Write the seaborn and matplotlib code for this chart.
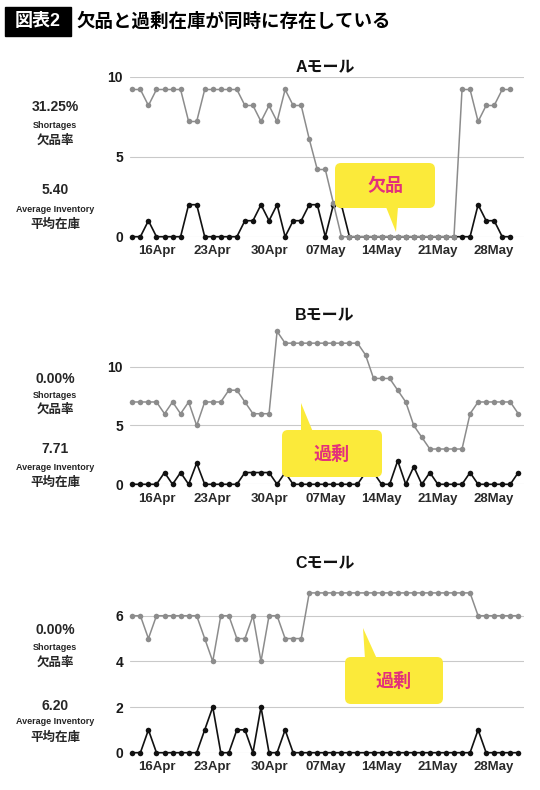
import numpy as np
import pandas as pd
import matplotlib
matplotlib.use('Agg')
import matplotlib.pyplot as plt
import matplotlib.dates as mdates
import seaborn as sns
from matplotlib.patches import FancyBboxPatch, Polygon

# ---- data ----
dates = pd.date_range('2020-04-13', '2020-05-31', freq='D')
tick_dates = ['2020-04-16', '2020-04-23', '2020-04-30', '2020-05-07',
              '2020-05-14', '2020-05-21', '2020-05-28']

header_tag = '図表2'
header_text = '欠品と過剰在庫が同時に存在している'

titles = ['Aモール', 'Bモール', 'Cモール']
shortage_rates = ['31.25%', '0.00%', '0.00%']
avg_inventory = ['5.40', '7.71', '6.20']

# grey line = stock on hand, black line = units sold
a_stock = [9.2, 9.2, 8.2, 9.2, 9.2, 9.2, 9.2, 7.2, 7.2, 9.2, 9.2, 9.2, 9.2, 9.2,
           8.2, 8.2, 7.2, 8.2, 7.2, 9.2, 8.2, 8.2, 6.1, 4.2, 4.2, 2.1,
           0, 0, 0, 0, 0, 0, 0, 0, 0, 0, 0, 0, 0, 0, 0,
           9.2, 9.2, 7.2, 8.2, 8.2, 9.2, 9.2]
a_sales = [0, 0, 1, 0, 0, 0, 0, 2, 2, 0, 0, 0, 0, 0,
           1, 1, 2, 1, 2, 0, 1, 1, 2, 2, 0, 2,
           2, 0, 0, 0, 0, 0, 0, 0, 0, 0, 0, 0, 0, 0, 0,
           0, 0, 2, 1, 1, 0, 0]

b_stock = [7, 7, 7, 7, 6, 7, 6, 7, 5, 7, 7, 7, 8, 8, 7, 6, 6, 6, 13,
           12, 12, 12, 12, 12, 12, 12, 12, 12, 12, 11, 9, 9, 9, 8, 7, 5, 4,
           3, 3, 3, 3, 3, 6, 7, 7, 7, 7, 7, 6]
b_sales = [0, 0, 0, 0, 1, 0, 1, 0, 1.8, 0, 0, 0, 0, 0, 1, 1, 1, 1, 0,
           1, 0, 0, 0, 0, 0, 0, 0, 0, 0, 1, 1, 0, 0, 2, 0, 1.5, 0,
           1, 0, 0, 0, 0, 1, 0, 0, 0, 0, 0, 1]

c_stock = [6, 6, 5, 6, 6, 6, 6, 6, 6, 5, 4, 6, 6, 5, 5, 6, 4, 6, 6, 5, 5, 5,
           7, 7, 7, 7, 7, 7, 7, 7, 7, 7, 7, 7, 7, 7, 7, 7, 7, 7, 7, 7, 7,
           6, 6, 6, 6, 6, 6]
c_sales = [0, 0, 1, 0, 0, 0, 0, 0, 0, 1, 2, 0, 0, 1, 1, 0, 2, 0, 0, 1, 0, 0,
           0, 0, 0, 0, 0, 0, 0, 0, 0, 0, 0, 0, 0, 0, 0, 0, 0, 0, 0, 0, 0,
           1, 0, 0, 0, 0, 0]

y_limits = [(0, 10), (0, 13), (0, 7)]
y_ticks = [[0, 5, 10], [0, 5, 10], [0, 2, 4, 6]]
callout_words = ['欠品', '過剰', '過剰']

# ---- styling ----
sns.set_theme(style='white')
plt.rcParams['font.family'] = ['Liberation Sans', 'Noto Sans CJK JP', 'DejaVu Sans']

W, H = 540, 790
fig = plt.figure(figsize=(W / 100, H / 100), dpi=100)
fig.patch.set_facecolor('white')

GREY = '#8c8c8c'
BLACK = '#111111'
YELLOW = '#fbea3a'
PINK = '#e3307b'

# axes frames in pixels: (top, bottom) of the y range
frames = [(76.7, 236.7), (331.4, 484.3), (592.9, 752.7)]
title_y = [67, 315, 563]
stat_y = [(107, 126, 141, 190, 209, 225),
          (379, 395, 410, 449, 467, 483),
          (630, 647, 663, 706, 722, 738)]
callouts = [
    dict(box=(335, 163, 100, 45), tri=[(386, 207), (398, 207), (396, 232)]),
    dict(box=(282, 430, 100, 47), tri=[(301, 432), (313, 432), (301, 403)]),
    dict(box=(345, 657, 98, 47), tri=[(365, 659), (377, 659), (363, 628)]),
]

ax_left, ax_right = 130, 524
x0 = dates[0] - pd.Timedelta(hours=7)
x1 = dates[-1] + pd.Timedelta(hours=17)

stocks = [a_stock, b_stock, c_stock]
sales = [a_sales, b_sales, c_sales]

for i in range(3):
    top, bot = frames[i]
    ax = fig.add_axes([ax_left / W, 1 - bot / H, (ax_right - ax_left) / W, (bot - top) / H])
    n = len(stocks[i])
    df = pd.DataFrame({'date': dates[:n], 'stock': stocks[i], 'sales': sales[i]})

    sns.lineplot(data=df, x='date', y='sales', ax=ax, color=BLACK, linewidth=1.2,
                 marker='o', markersize=4, markeredgewidth=0, clip_on=False, zorder=3)
    sns.lineplot(data=df, x='date', y='stock', ax=ax, color=GREY, linewidth=1.1,
                 marker='o', markersize=4, markeredgewidth=0, clip_on=False, zorder=4)

    ax.set_xlim(x0, x1)
    ax.set_ylim(*y_limits[i])
    ax.set_yticks(y_ticks[i])
    ax.set_xticks(pd.to_datetime(tick_dates))
    ax.xaxis.set_major_formatter(mdates.DateFormatter('%d%b'))
    ax.set_xlabel('')
    ax.set_ylabel('')
    ax.grid(axis='y', color='#c9c9c9', linewidth=0.8)
    ax.grid(axis='x', visible=False)
    ax.set_axisbelow(True)
    for s in ax.spines.values():
        s.set_visible(False)
    ax.tick_params(axis='x', length=0, pad=6, labelsize=9.5, labelcolor='#2a2a2a')
    ax.tick_params(axis='y', length=0, pad=5, labelsize=10, labelcolor='#1a1a1a')
    for lab in ax.get_xticklabels() + ax.get_yticklabels():
        lab.set_fontweight('bold')
    ax.patch.set_alpha(0)

# overlay in pixel coordinates for header, side texts and callouts
ov = fig.add_axes([0, 0, 1, 1])
ov.set_xlim(0, W)
ov.set_ylim(H, 0)
ov.axis('off')
ov.set_zorder(10)
ov.patch.set_alpha(0)

ov.add_patch(plt.Rectangle((5, 7), 66, 29, color='black'))
ov.text(38, 22, header_tag, color='white', fontsize=13, fontweight='bold',
        ha='center', va='center')
ov.text(76, 22, header_text, color='black', fontsize=13.3, fontweight='bold',
        ha='left', va='center')

for i in range(3):
    ov.text(325, title_y[i], titles[i], fontsize=11.5, fontweight='bold',
            ha='center', va='center', color='#111111')
    ys = stat_y[i]
    ov.text(55, ys[0], shortage_rates[i], fontsize=10, fontweight='bold', ha='center', va='center')
    ov.text(55, ys[1], 'Shortages', fontsize=6.5, fontweight='bold', ha='center', va='center')
    ov.text(55, ys[2], '欠品率', fontsize=9, fontweight='bold', ha='center', va='center')
    ov.text(55, ys[3], avg_inventory[i], fontsize=10, fontweight='bold', ha='center', va='center')
    ov.text(55, ys[4], 'Average Inventory', fontsize=6.5, fontweight='bold', ha='center', va='center')
    ov.text(55, ys[5], '平均在庫', fontsize=9, fontweight='bold', ha='center', va='center')

    c = callouts[i]
    bx, by, bw, bh = c['box']
    ov.add_patch(FancyBboxPatch((bx, by), bw, bh, boxstyle='round,pad=0,rounding_size=6',
                                facecolor=YELLOW, edgecolor='none'))
    ov.add_patch(Polygon(c['tri'], closed=True, facecolor=YELLOW, edgecolor='none'))
    ov.text(bx + bw / 2, by + bh / 2 + 1, callout_words[i], color=PINK, fontsize=13,
            fontweight='bold', ha='center', va='center')

fig.savefig('out.png', dpi=100)
